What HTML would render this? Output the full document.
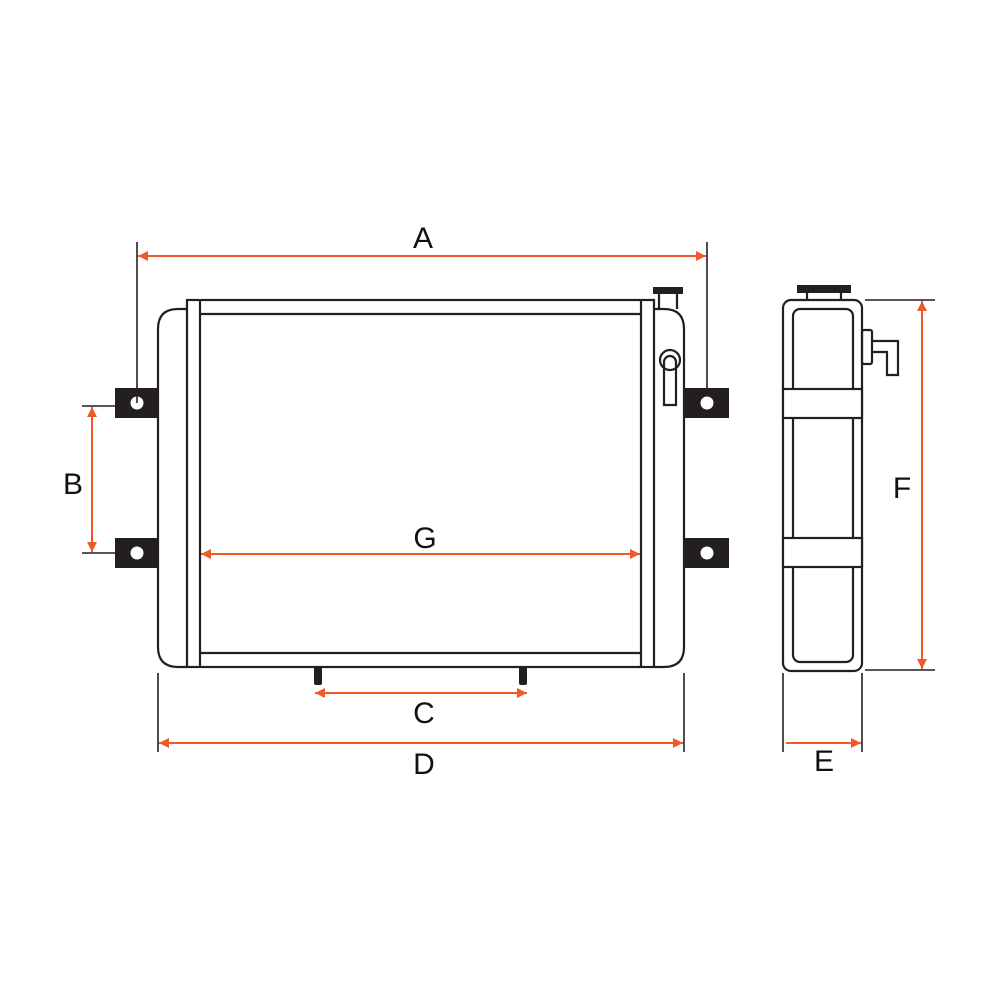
<!DOCTYPE html>
<html><head><meta charset="utf-8"><style>html,body{margin:0;padding:0;background:#fff}svg{display:block}</style></head>
<body>
<svg width="1000" height="1000" viewBox="0 0 1000 1000" xmlns="http://www.w3.org/2000/svg">
<defs>
<marker id="ar" viewBox="0 0 10 10" refX="10" refY="5" markerWidth="10" markerHeight="10" markerUnits="userSpaceOnUse" orient="auto-start-reverse">
<path d="M0,0 L10,5 L0,10 Z" fill="#f05a28"/></marker>
</defs>
<g fill="none" stroke="#231f20" stroke-width="2.2">
<!-- main body -->
<path d="M187,309 H178 Q158,309 158,329 V647 Q158,667 178,667 H187"/>
<path d="M654,309 H664 Q684,309 684,329 V647 Q684,667 664,667 H654"/>
<rect x="187" y="300" width="467" height="367"/>
<line x1="200" y1="300" x2="200" y2="667"/>
<line x1="641" y1="300" x2="641" y2="667"/>
<line x1="200" y1="314" x2="641" y2="314"/>
<line x1="200" y1="653" x2="641" y2="653"/>
<!-- cap neck -->
<path d="M659,309 V293 M677,293 V309"/>
<!-- sight gauge -->
<circle cx="670" cy="360" r="10"/>
<path d="M664,405 V362 A6,6 0 0 1 676,362 V405 Z"/>
<!-- ext lines -->
<g stroke-width="1.6">
<line x1="137" y1="242" x2="137" y2="403"/>
<line x1="707" y1="242" x2="707" y2="403"/>
<line x1="82" y1="406" x2="137" y2="406"/>
<line x1="82" y1="553" x2="137" y2="553"/>
<line x1="158" y1="673" x2="158" y2="752"/>
<line x1="684" y1="673" x2="684" y2="752"/>
<line x1="783" y1="673" x2="783" y2="752"/>
<line x1="862" y1="673" x2="862" y2="752"/>
<line x1="865" y1="300" x2="935" y2="300"/>
<line x1="865" y1="670" x2="935" y2="670"/>
</g>
<!-- side view -->
<rect x="783" y="300" width="79" height="371" rx="8"/>
<rect x="793" y="309" width="60" height="353" rx="7"/>
<rect x="783" y="389" width="79" height="29" fill="#fff"/>
<rect x="783" y="538" width="79" height="29" fill="#fff"/>
<path d="M807,300 V293 M841,293 V300"/>
<rect x="862" y="330" width="10" height="34" rx="2"/>
<path d="M872,341 H898 V375 H887 V352 H872"/>
</g>
<g fill="#231f20">
<rect x="653" y="287" width="30" height="7"/>
<rect x="797" y="285" width="54" height="8"/>
<rect x="115" y="388" width="44" height="30"/>
<rect x="115" y="538" width="44" height="30"/>
<rect x="685" y="388" width="44" height="30"/>
<rect x="685" y="538" width="44" height="30"/>
<rect x="314" y="667" width="8" height="18" rx="2"/>
<rect x="519" y="667" width="8" height="18" rx="2"/>
</g>
<g fill="#fff">
<circle cx="137" cy="403" r="6.5"/><circle cx="137" cy="553" r="6.5"/>
<circle cx="707" cy="403" r="6.5"/><circle cx="707" cy="553" r="6.5"/>
</g>
<line x1="137" y1="403" x2="137" y2="388" stroke="#231f20" stroke-width="1.6"/>
<g stroke="#f05a28" stroke-width="2" marker-start="url(#ar)" marker-end="url(#ar)">
<line x1="138" y1="256" x2="706" y2="256"/>
<line x1="92" y1="407" x2="92" y2="552"/>
<line x1="201" y1="554" x2="640" y2="554"/>
<line x1="315" y1="693" x2="527" y2="693"/>
<line x1="159" y1="743" x2="683" y2="743"/>
<line x1="922" y1="301" x2="922" y2="669"/>
</g>
<line x1="786" y1="743" x2="861" y2="743" stroke="#f05a28" stroke-width="2" marker-end="url(#ar)"/>
<g font-family="Liberation Sans, sans-serif" font-size="30" fill="#111" text-anchor="middle">
<text x="423" y="248">A</text>
<text x="73" y="494">B</text>
<text x="425" y="548">G</text>
<text x="424" y="723">C</text>
<text x="424" y="774">D</text>
<text x="824" y="771">E</text>
<text x="902" y="498">F</text>
</g>
</svg>
</body></html>
